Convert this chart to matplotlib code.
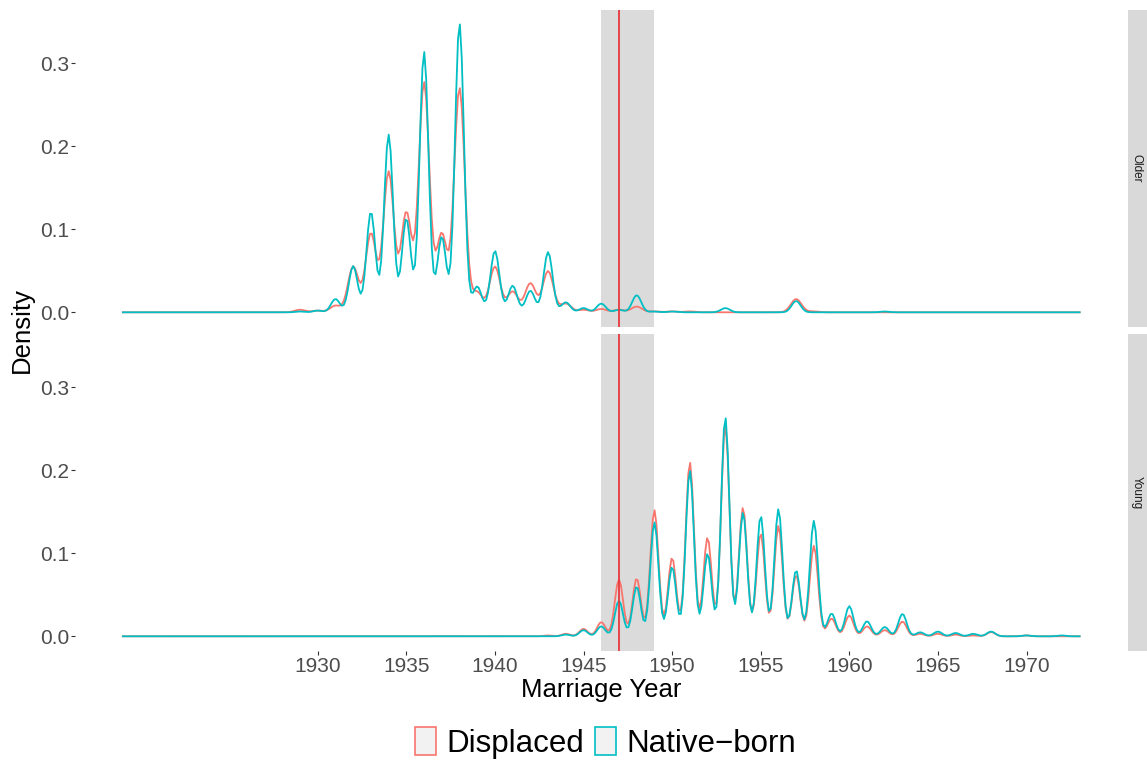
"""
Marriage year densities by cohort, displaced vs native-born
"""

import numpy as np
import matplotlib.pyplot as plt
from matplotlib.patches import Patch

plt.rcParams['font.family'] = ['Liberation Sans', 'DejaVu Sans']

# share of marriages in each year (%), older cohort
older_years_disp = [1929, 1930, 1931, 1932, 1933, 1934, 1935, 1936, 1937, 1938, 1939,
                    1940, 1941, 1942, 1943, 1944, 1945, 1946, 1947, 1948, 1949, 1950,
                    1951, 1957, 1958]
older_pct_disp = [0.23, 0.15, 0.60, 4.14, 7.15, 12.72, 9.03, 20.81, 7.08, 20.32, 1.81,
                  4.14, 1.88, 2.63, 3.73, 0.79, 0.23, 0.30, 0.23, 0.52, 0.08, 0.08,
                  0.08, 1.20, 0.08]
older_years_nat = [1929, 1930, 1931, 1932, 1933, 1934, 1935, 1936, 1937, 1938, 1939,
                   1940, 1941, 1942, 1943, 1944, 1945, 1946, 1947, 1948, 1949, 1950,
                   1953, 1957, 1962]
older_pct_nat = [0.06, 0.13, 1.01, 3.51, 7.64, 13.51, 7.13, 19.82, 5.74, 21.97, 1.96,
                 4.67, 2.02, 1.64, 4.58, 0.76, 0.32, 0.66, 0.19, 1.30, 0.06, 0.06,
                 0.32, 0.86, 0.06]

# share of marriages in each year (%), young cohort
young_years_disp = [1943, 1944, 1945, 1946, 1947, 1948, 1949, 1950, 1951, 1952, 1953,
                    1954, 1955, 1956, 1957, 1958, 1959, 1960, 1961, 1962, 1963, 1964,
                    1965, 1966, 1967, 1968, 1970]
young_pct_disp = [0.06, 0.18, 0.53, 1.01, 4.05, 4.13, 8.99, 5.60, 12.40, 7.04, 15.02,
                  9.17, 7.33, 7.87, 4.36, 6.45, 1.27, 1.48, 0.71, 0.44, 1.05, 0.18,
                  0.18, 0.12, 0.06, 0.30, 0.06]
young_years_nat = [1944, 1945, 1946, 1947, 1948, 1949, 1950, 1951, 1952, 1953, 1954,
                   1955, 1956, 1957, 1958, 1959, 1960, 1961, 1962, 1963, 1964, 1965,
                   1966, 1967, 1968, 1970, 1972]
young_pct_nat = [0.12, 0.43, 0.70, 2.50, 3.48, 7.98, 4.86, 11.61, 5.79, 15.37, 8.67,
                 8.44, 8.91, 4.62, 8.09, 1.60, 2.11, 1.05, 0.65, 1.57, 0.28, 0.33,
                 0.23, 0.17, 0.33, 0.06, 0.06]

# kernel bandwidth (years) for each cohort/group
bandwidths = {('Older', 'Displaced'): 0.300, ('Older', 'Native−born'): 0.252,
              ('Young', 'Displaced'): 0.236, ('Young', 'Native−born'): 0.232}

year_lo, year_hi = 1919, 1973
event_year = 1947
window = (1946, 1949)

groups = ['Displaced', 'Native−born']
cohorts = ['Older', 'Young']
colors = {'Displaced': '#F8766D', 'Native−born': '#00BFC4'}
data = {('Older', 'Displaced'): (older_years_disp, older_pct_disp),
        ('Older', 'Native−born'): (older_years_nat, older_pct_nat),
        ('Young', 'Displaced'): (young_years_disp, young_pct_disp),
        ('Young', 'Native−born'): (young_years_nat, young_pct_nat)}


def density(years, pct, bw, n=512):
    # gaussian kernel density over the full year range, weighted by share
    grid = np.linspace(year_lo, year_hi, n)
    w = np.asarray(pct) / np.sum(pct)
    yrs = np.asarray(years, dtype=float)
    k = np.exp(-0.5 * ((grid[:, None] - yrs[None, :]) / bw) ** 2)
    return grid, (k * w).sum(axis=1) / (np.sqrt(2 * np.pi) * bw)


curves = {key: density(*data[key], bandwidths[key]) for key in data}
ymax = max(c[1].max() for c in curves.values())

W, H = 1147, 760
fig = plt.figure(figsize=(W / 100, H / 100), dpi=100)

panel_l, panel_r = 75, 1127.5
panel_tops = [10, 334]
panel_h = 316.7

axes = []
for i, cohort in enumerate(cohorts):
    top = panel_tops[i]
    ax = fig.add_axes([panel_l / W, 1 - (top + panel_h) / H,
                       (panel_r - panel_l) / W, panel_h / H])
    ax.axvspan(window[0], window[1], color='#DBDBDB', lw=0, zorder=0)
    for g in groups:
        x, y = curves[(cohort, g)]
        ax.plot(x, y, color=colors[g], lw=1.3, zorder=2)
    ax.axvline(event_year, color='#E8383D', lw=1.3, zorder=3)

    span = year_hi - year_lo
    ax.set_xlim(year_lo - 0.05 * span, year_hi + 0.05 * span)
    ax.set_ylim(-0.05 * ymax, 1.05 * ymax)
    ax.set_yticks([0.0, 0.1, 0.2, 0.3])
    ax.set_yticklabels(['0.0', '0.1', '0.2', '0.3'])
    ax.set_xticks(np.arange(1930, 1971, 5))
    for s in ax.spines.values():
        s.set_visible(False)
    ax.tick_params(axis='both', length=2.7, width=0.8, color='#333333',
                   labelsize=15, labelcolor='#4D4D4D', pad=1.5)
    if i == 0:
        ax.tick_params(axis='x', bottom=False, labelbottom=False)

    # facet strip on the right
    sax = fig.add_axes([(panel_r + 0.5) / W, 1 - (top + panel_h) / H,
                        20 / W, panel_h / H])
    sax.set_facecolor('#D9D9D9')
    sax.set_xticks([])
    sax.set_yticks([])
    for s in sax.spines.values():
        s.set_visible(False)
    sax.text(0.45, 0.5, cohort, rotation=-90, ha='center', va='center',
             fontsize=8.5, color='#1A1A1A', transform=sax.transAxes)
    axes.append(ax)

fig.text((panel_l + panel_r) / 2 / W, 1 - 690 / H, 'Marriage Year',
         ha='center', va='center', fontsize=18.5)
fig.text(22 / W, 1 - 330 / H, 'Density', rotation=90,
         ha='center', va='center', fontsize=18.5)

handles = [Patch(facecolor='#F2F2F2', edgecolor=colors[g], lw=1.2, label=g)
           for g in groups]
fig.legend(handles=handles, loc='center', bbox_to_anchor=(605.5 / W, 1 - 743 / H),
           ncol=2, frameon=False, fontsize=22.5, handlelength=0.69, handleheight=0.98,
           handletextpad=0.33, columnspacing=0.33, borderpad=0, borderaxespad=0)

fig.savefig('out.png', dpi=100)
